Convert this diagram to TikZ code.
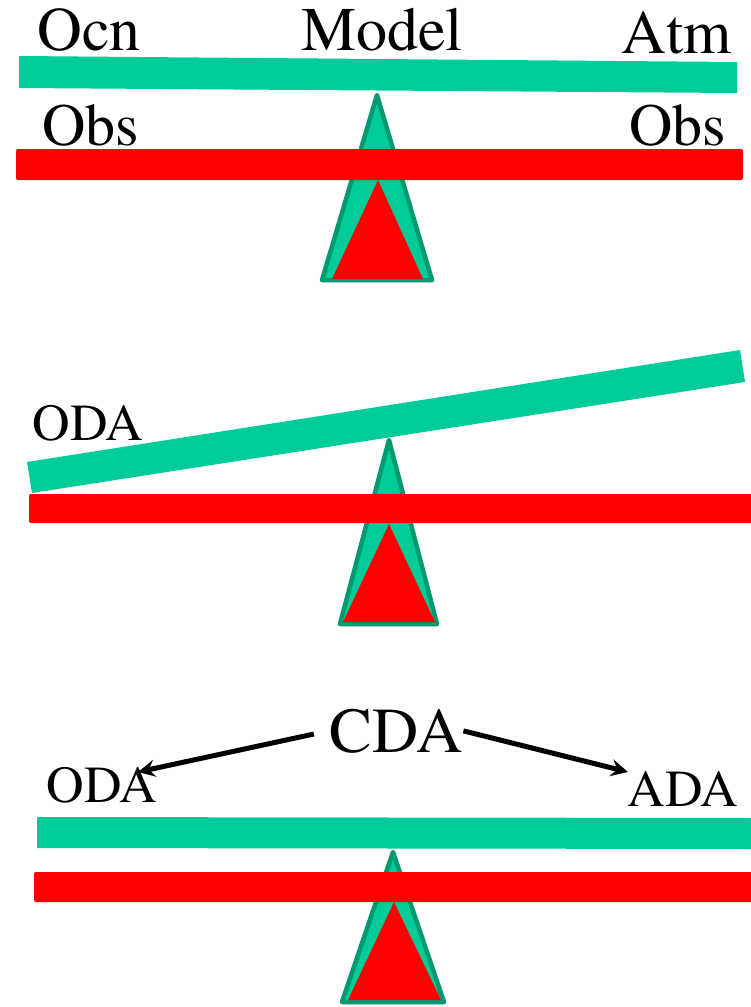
\documentclass[tikz,border=0pt]{standalone}
\usepackage[T1]{fontenc}
\usepackage{times}
\usetikzlibrary{arrows.meta}
\definecolor{beamgreen}{RGB}{0,204,153}
\definecolor{pivotedge}{RGB}{0,153,112}
\definecolor{obsred}{RGB}{255,0,0}
\tikzset{
  label62/.style={inner sep=0pt, anchor=base, font=\rmfamily\fontsize{62}{70}\selectfont},
  label60/.style={inner sep=0pt, anchor=base, font=\rmfamily\fontsize{60}{68}\selectfont},
  label52/.style={inner sep=0pt, anchor=base, font=\rmfamily\fontsize{52}{60}\selectfont},
  label64/.style={inner sep=0pt, anchor=base, font=\rmfamily\fontsize{64}{72}\selectfont},
  beam/.style={fill=beamgreen, draw=none},
  obsbar/.style={fill=obsred, draw=none, rounded corners=2pt},
  pivot/.style={fill=beamgreen, draw=pivotedge, line width=4.5pt, line join=round},
  pivotcore/.style={fill=obsred, draw=none},
  pointer/.style={line width=5pt, -{Stealth[length=17pt,width=17pt,inset=6pt]}}
}
\begin{document}
\begin{tikzpicture}[x=1pt,y=-1pt]
\useasboundingbox (0,0) rectangle (751,1007);

% ---------- top seesaw: model vs observations ----------
\draw[pivot] (377,95) -- (432,280) -- (322,280) -- cycle;
\fill[pivotcore] (378,180) -- (423,279) -- (332,279) -- cycle;
\fill[beam] (19,56) -- (737,62) -- (737,93) -- (19,88) -- cycle;
\fill[obsbar] (16,149) rectangle (743,180);
\node[label62] (ocn) at (89,50) {Ocn};
\node[label62] (model) at (382,50) {Model};
\node[label62] (atm) at (677,53) {Atm};
\node[label60] (obsl) at (91,145) {Obs};
\node[label60] (obsr) at (678,145) {Obs};

% ---------- middle seesaw: ocean-only assimilation ----------
\draw[pivot] (389,440) -- (437,624) -- (340,624) -- cycle;
\fill[pivotcore] (389,524) -- (435,622) -- (343,622) -- cycle;
\fill[beam] (27,462) -- (740,350) -- (745,382) -- (32,493) -- cycle;
\fill[obsbar] (29,494) rectangle (753,523);
\node[label52] (odam) at (88,440) {ODA};

% ---------- bottom seesaw: coupled assimilation ----------
\draw[pivot] (393,852) -- (444,1002) -- (342,1002) -- cycle;
\fill[pivotcore] (394,902) -- (441,1000) -- (348,1000) -- cycle;
\fill[beam] (37,817) -- (753,818) -- (753,849) -- (37,848) -- cycle;
\fill[obsbar] (34,872) rectangle (753,902);
\node[label64] (cda) at (396,752) {CDA};
\node[label52] (odab) at (102,802) {ODA};
\node[label52] (ada) at (683,806) {ADA};
\coordinate (ltip) at (138,772);
\coordinate (rtip) at (628,772);
\draw[pointer, shorten <=16pt] (cda.west) -- (ltip);
\draw[pointer, shorten <=1pt] (cda.east) -- (rtip);
\end{tikzpicture}
\end{document}
